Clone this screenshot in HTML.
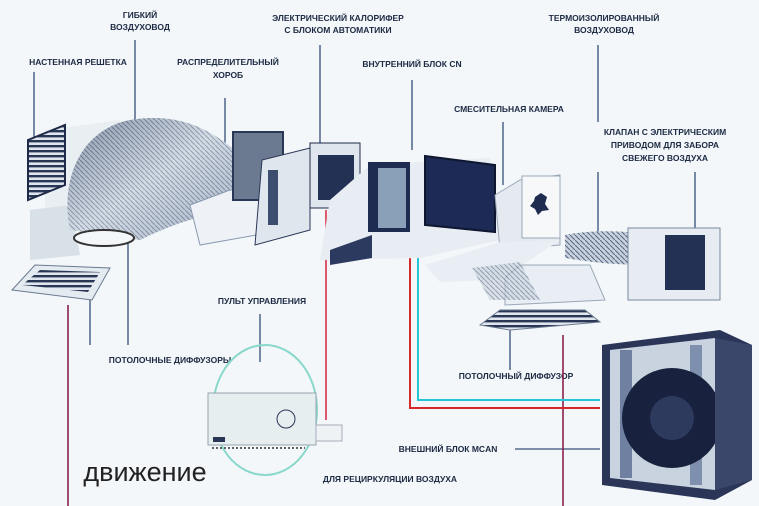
<!DOCTYPE html>
<html><head><meta charset="utf-8"><style>
html,body{margin:0;padding:0;background:#f3f7f9;}
svg{display:block}
text{font-family:"Liberation Sans","DejaVu Sans",sans-serif;font-weight:bold;font-size:8.5px;fill:#1d2a44;text-anchor:middle}
</style></head><body>
<svg width="759" height="506" viewBox="0 0 759 506" xmlns="http://www.w3.org/2000/svg">
<defs>
<linearGradient id="flex" x1="0" y1="0" x2="1" y2="1"><stop offset="0" stop-color="#3e4e6c"/><stop offset=".5" stop-color="#e2e8ee"/><stop offset="1" stop-color="#7d8ea8"/></linearGradient>
<pattern id="rib" width="5" height="5" patternUnits="userSpaceOnUse"><rect width="5" height="5" fill="#c9d2dc"/><path d="M0 0 L5 5" stroke="#5a6a88" stroke-width="1.1"/></pattern>
<pattern id="grl" width="4" height="5" patternUnits="userSpaceOnUse"><rect width="4" height="5" fill="#dfe6ee"/><rect y="0" width="4" height="2.4" fill="#2a3656"/></pattern>
</defs>
<rect width="759" height="506" fill="#f3f7f9"/>

<text x="140" y="18">ГИБКИЙ</text><text x="140" y="30">ВОЗДУХОВОД</text>
<text x="78" y="65">НАСТЕННАЯ РЕШЕТКА</text>
<text x="228" y="65">РАСПРЕДЕЛИТЕЛЬНЫЙ</text><text x="228" y="78">ХОРОБ</text>
<text x="338" y="21">ЭЛЕКТРИЧЕСКИЙ КАЛОРИФЕР</text><text x="338" y="33">С БЛОКОМ АВТОМАТИКИ</text>
<text x="412" y="67">ВНУТРЕННИЙ БЛОК CN</text>
<text x="604" y="21">ТЕРМОИЗОЛИРОВАННЫЙ</text><text x="604" y="33">ВОЗДУХОВОД</text>
<text x="509" y="112">СМЕСИТЕЛЬНАЯ КАМЕРА</text>
<text x="665" y="135">КЛАПАН С ЭЛЕКТРИЧЕСКИМ</text><text x="665" y="148">ПРИВОДОМ ДЛЯ ЗАБОРА</text><text x="665" y="161">СВЕЖЕГО ВОЗДУХА</text>
<text x="262" y="304">ПУЛЬТ УПРАВЛЕНИЯ</text>
<text x="170" y="363">ПОТОЛОЧНЫЕ ДИФФУЗОРЫ</text>
<text x="516" y="379">ПОТОЛОЧНЫЙ ДИФФУЗОР</text>
<text x="448" y="452">ВНЕШНИЙ БЛОК MCAN</text>
<text x="390" y="482">ДЛЯ РЕЦИРКУЛЯЦИИ ВОЗДУХА</text>
<text x="145" y="481" style="font-weight:normal;font-size:27px;fill:#222">движение</text>

<g stroke="#34507a" stroke-width="1.3">
<line x1="34" y1="72" x2="34" y2="158"/>
<line x1="135" y1="40" x2="135" y2="125"/>
<line x1="225" y1="98" x2="225" y2="150"/>
<line x1="320" y1="45" x2="320" y2="150"/>
<line x1="412" y1="80" x2="412" y2="150"/>
<line x1="598" y1="45" x2="598" y2="122"/>
<line x1="598" y1="172" x2="598" y2="232"/>
<line x1="695" y1="172" x2="695" y2="232"/>
<line x1="503" y1="122" x2="503" y2="185"/>
<line x1="90" y1="295" x2="90" y2="345"/>
<line x1="128" y1="240" x2="128" y2="345"/>
<line x1="260" y1="314" x2="260" y2="362"/>
<line x1="510" y1="330" x2="510" y2="370"/>
<line x1="515" y1="449" x2="600" y2="449"/>
</g>
<g fill="none" stroke-width="1.6">
<line x1="68" y1="305" x2="68" y2="506" stroke="#8a2050"/>
<line x1="563" y1="335" x2="563" y2="506" stroke="#8a2050"/>
<line x1="326" y1="210" x2="326" y2="420" stroke="#d9304a"/>
<polyline points="410,252 410,408 600,408" stroke="#d62828" stroke-width="2"/>
<polyline points="418,255 418,400 600,400" stroke="#26c6d6" stroke-width="2"/>
</g>

<polygon points="45,130 120,120 120,220 45,235" fill="#e9eef3"/>
<polygon points="28,140 65,125 65,185 28,200" fill="url(#grl)" stroke="#1e2a48" stroke-width="2"/>
<polygon points="30,210 70,205 80,255 30,260" fill="#d8e0e8"/>
<polygon points="12,290 35,265 110,268 92,300" fill="#e4ebf1" stroke="#6a7a90"/>
<polygon points="22,285 40,270 100,272 88,292" fill="url(#grl)"/>
<path d="M70,230 C60,180 80,130 130,120 C180,112 210,130 235,150 L235,210 C200,215 170,225 140,240 Z" fill="url(#rib)"/>
<path d="M70,230 C60,180 80,130 130,120 C180,112 210,130 235,150 L235,210 C200,215 170,225 140,240 Z" fill="url(#flex)" opacity=".45"/>
<ellipse cx="104" cy="238" rx="30" ry="8" fill="#f4f7fa" stroke="#333" stroke-width="2"/>
<polygon points="190,205 230,190 285,195 285,230 200,245" fill="#eef2f6" stroke="#8a9ab0"/>
<rect x="233" y="132" width="50" height="68" fill="#6b7a90" stroke="#2a3656" stroke-width="2"/>
<polygon points="255,245 262,160 310,148 310,230" fill="#dfe6ee" stroke="#2a3656"/>
<rect x="268" y="170" width="10" height="55" fill="#3d4d6e"/>
<rect x="310" y="143" width="50" height="65" fill="#dfe6ee" stroke="#1f2b4a"/>
<rect x="318" y="155" width="36" height="45" fill="#233155"/>
<polygon points="320,260 330,200 370,165 490,158 500,240 420,258" fill="#e7edf3"/>
<rect x="368" y="162" width="42" height="70" fill="#1f2c52"/>
<rect x="378" y="168" width="28" height="60" fill="#8aa0b8"/>
<polygon points="425,156 495,165 495,232 425,225" fill="#1c2a55" stroke="#0f1730" stroke-width="2"/>
<polygon points="330,250 372,235 372,258 330,265" fill="#2c3a60"/>
<polygon points="495,195 520,180 560,175 560,245 500,250" fill="#e4eaf0" stroke="#9aa8b8"/>
<rect x="522" y="176" width="38" height="62" fill="#f6f8fa" stroke="#9aa8b8"/>
<path d="M535,197 l6,-4 6,4 -2,7 4,6 -7,1 -4,4 -3,-6 -5,-3 4,-5z" fill="#1f2c52"/>
<polygon points="425,265 500,242 560,240 500,280 440,282" fill="#e8eef3"/>
<path d="M565,235 C600,228 640,232 670,238 L670,262 C630,268 590,262 565,258 Z" fill="url(#rib)"/>
<rect x="628" y="228" width="92" height="72" fill="#e6ecf2" stroke="#7a8aa0"/>
<rect x="665" y="235" width="40" height="55" fill="#233155"/>
<polygon points="505,278 520,265 590,265 605,300 505,305" fill="#e8eef3" stroke="#9aa8b8"/>
<polygon points="480,325 500,310 585,310 600,322 510,330" fill="url(#grl)" stroke="#6a7a90"/>
<polygon points="472,268 520,262 540,300 490,300" fill="url(#rib)" opacity=".6"/>
<ellipse cx="265" cy="410" rx="52" ry="65" fill="none" stroke="#8ad8cc" stroke-width="2"/>
<rect x="208" y="393" width="108" height="52" fill="#e6eef0" stroke="#95a5b0"/>
<circle cx="286" cy="419" r="9" fill="none" stroke="#2a3656"/>
<rect x="213" y="437" width="12" height="5" fill="#2a3656"/>
<line x1="212" y1="448" x2="305" y2="448" stroke="#333" stroke-dasharray="2,2" stroke-width="1.5"/>
<rect x="316" y="425" width="26" height="16" fill="#eef2f4" stroke="#aab"/>
<polygon points="602,345 720,330 752,345 752,480 715,500 602,485" fill="#2a3558"/>
<polygon points="610,350 715,338 715,490 610,478" fill="#c8d3df"/>
<rect x="620" y="350" width="12" height="128" fill="#6f80a0"/>
<rect x="690" y="345" width="12" height="140" fill="#7e90ad"/>
<circle cx="672" cy="418" r="50" fill="#18223f"/>
<circle cx="672" cy="418" r="22" fill="#2d3a5e"/>
<polygon points="715,338 752,345 752,480 715,490" fill="#3a466a"/>
</svg>
</body></html>
